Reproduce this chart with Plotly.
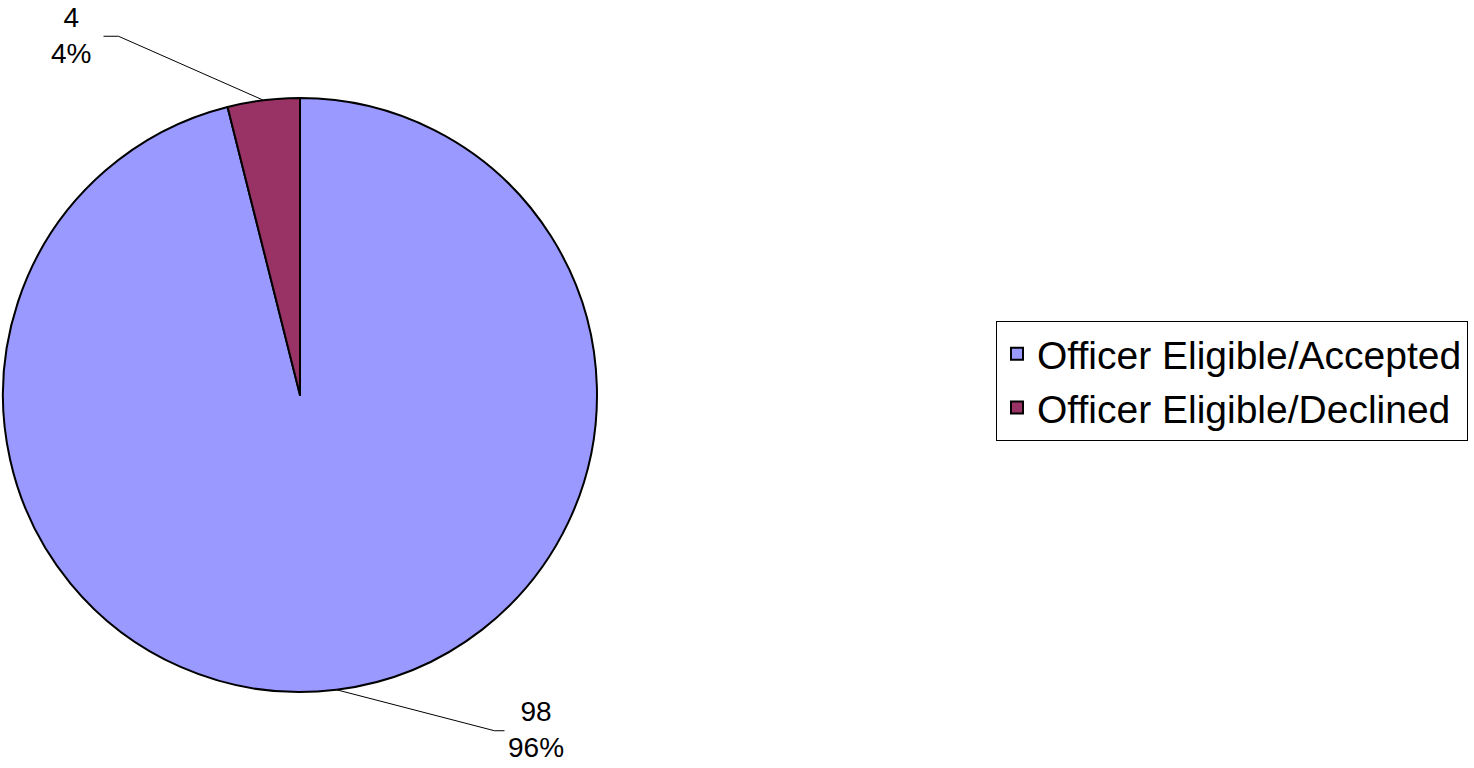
import math
import plotly.graph_objects as go

# data
categories = ["Officer Eligible/Accepted", "Officer Eligible/Declined"]
counts = [98, 4]
colors = ["#9999FF", "#993366"]

W, H = 1474, 768
# pie placement in pixels
cx, cy, r = 300, 395, 297

fig = go.Figure()
fig.add_trace(go.Pie(
    labels=categories,
    values=counts,
    sort=False,
    direction="clockwise",
    rotation=0,
    marker=dict(colors=colors, line=dict(color="black", width=2)),
    textinfo="none",
    hoverinfo="label+value+percent",
    domain=dict(x=[(cx - r) / W, (cx + r) / W], y=[1 - (cy + r) / H, 1 - (cy - r) / H]),
))

# outside labels with leader lines, positioned from each slice's mid angle
total = sum(counts)
# elbow offset and tail length per slice (style only)
leader = [
    dict(dx=158, dy=41, tail=10),
    dict(dx=-145, dy=-64, tail=-15),
]
start = 0.0
shapes = []
annotations = []
for v, ld in zip(counts, leader):
    frac = v / total
    mid = (start + frac / 2) * 2 * math.pi
    start += frac
    ex = cx + r * math.sin(mid)
    ey = cy - r * math.cos(mid)
    bx, by = ex + ld["dx"], ey + ld["dy"]
    tx = bx + ld["tail"]
    for (x0, y0, x1, y1) in [(ex, ey, bx, by), (bx, by, tx, by)]:
        shapes.append(dict(type="line", xref="paper", yref="paper",
                           x0=x0 / W, y0=1 - y0 / H, x1=x1 / W, y1=1 - y1 / H,
                           line=dict(color="black", width=1)))
    pct = round(frac * 100)
    right = ld["tail"] > 0
    annotations.append(dict(
        xref="paper", yref="paper",
        x=(tx + (32 if right else -33)) / W, y=1 - (by - 1) / H,
        text=f"{v}<br>{pct}%", showarrow=False,
        font=dict(size=28, color="black", family="Liberation Sans, Arial"),
        xanchor="center", yanchor="middle", align="center",
    ))

fig.update_layout(
    width=W, height=H,
    margin=dict(l=0, r=0, t=0, b=0),
    paper_bgcolor="white",
    plot_bgcolor="white",
    font=dict(family="Liberation Sans, Arial", color="black"),
    shapes=shapes,
    annotations=annotations,
    legend=dict(
        x=996 / W, y=1 - 321 / H, xanchor="left", yanchor="top",
        font=dict(size=39, family="Liberation Sans, Arial", color="black"),
        bgcolor="white", bordercolor="black", borderwidth=1,
    ),
)

fig.write_html("out.html", config={"displayModeBar": False},
               post_script="document.body.style.margin='0';")
